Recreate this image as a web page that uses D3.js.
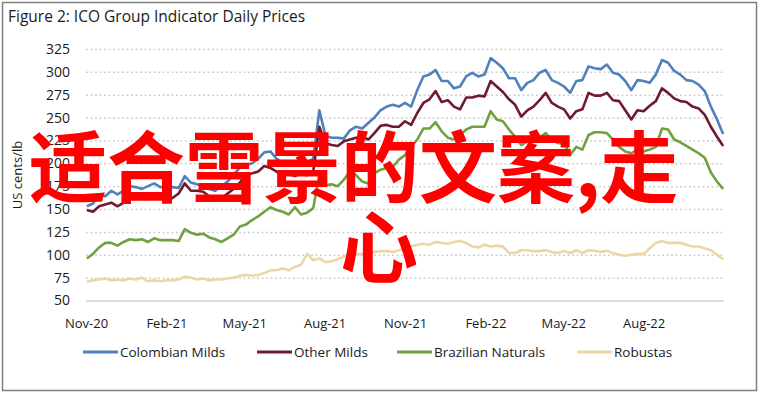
<!DOCTYPE html>
<html>
<head>
<meta charset="utf-8">
<script src="https://cdn.jsdelivr.net/npm/d3@7"></script>
<style>
  html, body { margin: 0; padding: 0; background: #fff; }
  text { font-family: "Open Sans", "Noto Sans", sans-serif; fill: #1a1a1a; }
</style>
</head>
<body>
<svg id="chart" width="759" height="393"></svg>
<script>
// weekly readings, first week starts Mon 2 Nov 2020
const startDate = new Date(2020, 10, 2)
const seriesNames = ["Colombian Milds", "Other Milds", "Brazilian Naturals", "Robustas"]
const seriesColors = ["#4f81bd", "#701a2e", "#70a040", "#ecd7a4"]

const colombian = [153, 156, 166, 164, 170, 166, 170, 175, 174, 172, 175, 178, 174, 175, 174, 173, 186, 179, 177, 176, 172, 170, 175, 180, 188, 195,
  198, 200, 205, 212, 213, 205, 201, 202, 200, 203, 201, 205, 258, 230, 228, 228, 227, 236, 240, 238, 244, 250, 258, 262, 264, 262, 266,
  262, 280, 295, 297, 302, 290, 290, 282, 284, 295, 299, 295, 297, 315, 310, 304, 293, 293, 280, 288, 291, 299, 302, 291, 288, 284,
  277, 290, 291, 306, 304, 303, 308, 299, 297, 290, 280, 291, 290, 288, 297, 313, 310, 301, 297, 291, 290, 286, 279, 262, 248, 232]

const otherMilds = [149, 147, 153, 155, 157, 153, 157, 161, 163, 161, 161, 164, 162, 164, 162, 167, 178, 170, 170, 169, 164, 159, 162, 167, 172, 179,
  187, 189, 191, 197, 195, 191, 187, 188, 186, 189, 187, 191, 240, 222, 220, 219, 224, 226, 228, 229, 226, 233, 241, 242, 240, 240, 246,
  242, 255, 266, 270, 279, 267, 269, 262, 259, 272, 272, 274, 273, 290, 284, 278, 270, 264, 251, 258, 262, 269, 277, 266, 262, 259,
  249, 257, 259, 277, 274, 274, 277, 269, 268, 258, 248, 258, 257, 263, 268, 282, 277, 271, 268, 267, 262, 260, 253, 240, 229, 219]

const brazilian = [96, 101, 108, 113, 113, 110, 114, 117, 116, 117, 114, 118, 116, 116, 116, 115, 128, 124, 122, 123, 119, 117, 114, 118, 122, 131,
  133, 138, 142, 147, 152, 149, 147, 144, 152, 144, 146, 151, 187, 176, 177, 175, 182, 191, 187, 180, 178, 189, 193, 195, 196, 204, 209,
  218, 226, 238, 238, 245, 235, 228, 226, 231, 237, 240, 240, 240, 257, 248, 246, 237, 229, 220, 224, 226, 228, 233, 226, 222, 222,
  209, 218, 215, 231, 234, 234, 233, 226, 218, 213, 211, 215, 213, 215, 218, 238, 237, 226, 223, 219, 215, 211, 206, 190, 180, 172]

const robustas = [70.5, 72, 73, 74, 72, 73, 72, 74, 73, 75, 71, 72, 71, 72, 72, 73, 76, 75, 73, 74, 72, 73, 73, 74, 75, 77,
  78, 77, 78, 80, 83, 83, 85, 83, 87, 89, 101, 94, 96, 92, 93, 95, 98, 100, 100, 101, 102, 103, 104, 104, 103, 105, 107,
  109, 111, 112, 111, 114, 113, 112, 114, 115, 113, 109, 108, 111, 109, 110, 109, 102, 102, 105, 105, 104, 104, 105, 103, 102, 104,
  102, 105, 102, 105, 104.5, 103, 104.5, 102, 100, 99, 100, 101, 101, 107, 113, 115, 113, 113, 113, 111, 109, 109, 107, 105, 100, 95]

const yTicks = [50, 75, 100, 125, 150, 175, 200, 225, 250, 275, 300, 325]
const xTickDates = ["2020-11-01", "2021-02-01", "2021-05-01", "2021-08-01", "2021-11-01", "2022-02-01", "2022-05-01", "2022-08-01"]
const watermarkLines = ["适合雪景的文案,走", "心"]

const margin = {left: 86, right: 35, top: 49, bottom: 92}
const W = 759, H = 393

function make_scales() {
  return {
    x: d3.scaleTime()
      .domain([new Date(2020, 10, 1), new Date(2022, 10, 1)])
      .range([margin.left, W - margin.right]),
    y: d3.scaleLinear()
      .domain([50, 325])
      .range([H - margin.bottom - 0.5, margin.top])
  }
}

function draw_frame(svg) {
  svg.append("rect")
    .attr("x", 2.5).attr("y", 2.5)
    .attr("width", W - 5).attr("height", H - 5)
    .attr("fill", "#fff")
    .attr("stroke", "#7f7f7f")
    .attr("stroke-width", 1.5)

  svg.append("text")
    .attr("x", 8).attr("y", 22)
    .style("font-size", "15.5px")
    .text("Figure 2: ICO Group Indicator Daily Prices")
}

function draw_axes(svg, scales) {
  let y_axis = d3.axisLeft(scales.y)
    .tickValues(yTicks)
    .tickSize(-(W - margin.left - margin.right))
    .tickPadding(16)

  let gy = svg.append("g")
    .attr("transform", `translate(${margin.left}, 0)`)
    .call(y_axis)
  gy.select(".domain").remove()
  gy.selectAll(".tick line")
    .attr("stroke", "#cfcfcf")
    .attr("stroke-width", 1.5)
    .attr("stroke-dasharray", d => d == 50 ? null : "2,2.5")
  gy.selectAll(".tick text")
    .style("font-size", "14px")
    .attr("fill", "#1a1a1a")

  let x_axis = d3.axisBottom(scales.x)
    .tickValues(xTickDates.map(d => d3.timeParse("%Y-%m-%d")(d)))
    .tickFormat(d3.timeFormat("%b-%y"))
    .tickSize(0)
    .tickPadding(18)

  let gx = svg.append("g")
    .attr("transform", `translate(0, ${scales.y(50)})`)
    .call(x_axis)
  gx.select(".domain").remove()
  gx.selectAll(".tick text")
    .style("font-size", "13px")
    .attr("fill", "#1a1a1a")

  svg.append("text")
    .attr("transform", `translate(22, 175) rotate(-90)`)
    .style("text-anchor", "middle")
    .style("font-size", "13px")
    .text("US cents/lb")
}

function draw_lines(svg, scales) {
  let dates = colombian.map((_, i) => d3.timeDay.offset(startDate, 7 * i))
  let all = [colombian, otherMilds, brazilian, robustas]

  let path_generator = d3.line()
    .x((d, i) => scales.x(dates[i]))
    .y(d => scales.y(d))

  svg.append("g")
    .selectAll("path")
    .data(all).enter()
    .append("path")
    .attr("d", path_generator)
    .attr("fill", "none")
    .attr("stroke", (d, i) => seriesColors[i])
    .attr("stroke-width", 2.6)
    .attr("stroke-linejoin", "round")
}

function draw_legend(svg) {
  let legendX = [83, 257, 397, 577]
  let g = svg.append("g").attr("transform", "translate(0, 352)")
  let items = g.selectAll("g")
    .data(seriesNames).enter()
    .append("g")
    .attr("transform", (d, i) => `translate(${legendX[i]}, 0)`)
  items.append("line")
    .attr("x1", 0).attr("x2", 35)
    .attr("stroke", (d, i) => seriesColors[i])
    .attr("stroke-width", 3)
  items.append("text")
    .attr("x", 37).attr("dy", "0.35em")
    .style("font-size", "13.5px")
    .text(d => d)
}

function draw_watermark(svg) {
  let g = svg.append("g")
  g.append("text")
    .attr("x", 29).attr("y", 197)
    .style("font-family", '"Noto Sans CJK SC", sans-serif')
    .style("font-size", "78px")
    .style("font-weight", 700)
    .style("fill", "#ff0000")
    .text(watermarkLines[0])
  g.append("text")
    .attr("x", 340).attr("y", 277)
    .style("font-family", '"Noto Sans CJK SC", sans-serif')
    .style("font-size", "78px")
    .style("font-weight", 700)
    .style("fill", "#ff0000")
    .text(watermarkLines[1])
}

let svg = d3.select("#chart")
let scales = make_scales()
draw_frame(svg)
draw_axes(svg, scales)
draw_lines(svg, scales)
draw_legend(svg)
draw_watermark(svg)
</script>
</body>
</html>
